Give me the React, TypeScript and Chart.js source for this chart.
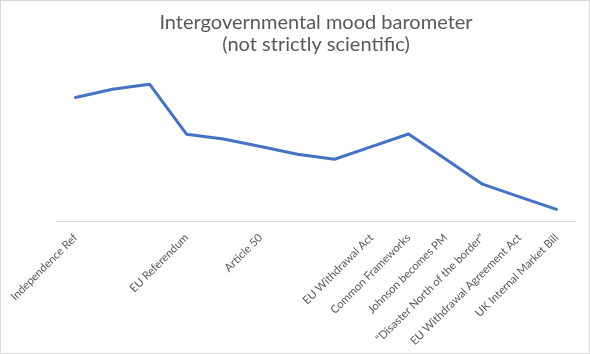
import React, { useEffect, useRef } from "react";
import { Chart, registerables } from "chart.js";

Chart.register(...registerables);

const titleLines = ["Intergovernmental mood barometer", "(not strictly scientific)"];

const categories = [
  "Independence Ref",
  "",
  "",
  "EU Referendum",
  "",
  "Article 50",
  "",
  "",
  "EU Withdrawal Act",
  "Common Frameworks",
  "Johnson becomes PM",
  "\"Disaster North of the border\"",
  "EU Withdrawal Agreement Act",
  "UK Internal Market Bill",
];

const mood = [8.18, 8.72, 9.06, 5.75, 5.43, 4.93, 4.42, 4.09, 4.93, 5.76, 4.11, 2.44, 1.6, 0.77];

const yMin = 0;
const yMax = 10;

const frame = {
  id: "frame",
  beforeDraw(chart: any) {
    const { ctx, width, height } = chart;
    ctx.save();
    ctx.fillStyle = "#ffffff";
    ctx.fillRect(0, 0, width, height);
    ctx.restore();
  },
  afterDraw(chart: any) {
    const { ctx, width, height } = chart;
    ctx.save();
    ctx.strokeStyle = "#d9d9d9";
    ctx.lineWidth = 1;
    ctx.strokeRect(0.5, 0.5, width - 1, height - 1);
    ctx.restore();
  },
};

export default function App() {
  const ref = useRef<HTMLCanvasElement | null>(null);

  useEffect(() => {
    document.body.style.margin = "0";
    const canvas = ref.current;
    if (!canvas) return;
    const chart = new Chart(canvas, {
      type: "line",
      data: {
        labels: categories,
        datasets: [
          {
            data: mood,
            borderColor: "#4472C4",
            backgroundColor: "#4472C4",
            borderWidth: 3,
            pointRadius: 0,
            tension: 0,
            borderCapStyle: "round",
            borderJoinStyle: "round",
          },
        ],
      },
      options: {
        responsive: false,
        animation: false,
        devicePixelRatio: 1,
        layout: { padding: { left: 57, right: 15, top: 0, bottom: 0 } },
        plugins: {
          legend: { display: false },
          tooltip: { enabled: false },
          title: {
            display: true,
            text: titleLines,
            color: "#595959",
            font: { family: "Lato", size: 20, weight: "normal", lineHeight: 1.1 },
            padding: { top: 11.5, bottom: 14.5 },
          },
        },
        scales: {
          x: {
            offset: true,
            grid: { display: false },
            border: { display: true, color: "#d9d9d9", width: 1 },
            ticks: {
              autoSkip: false,
              maxRotation: 45,
              minRotation: 45,
              padding: 2,
              color: "#595959",
              font: { family: "Lato", size: 11.2 },
            },
            afterFit(scale: any) {
              scale.height = 133;
            },
          },
          y: {
            display: false,
            min: yMin,
            max: yMax,
          },
        },
      },
      plugins: [frame],
    });
    return () => chart.destroy();
  }, []);

  return (
    <div style={{ position: "absolute", left: 0, top: 0, width: 590, height: 354 }}>
      <canvas ref={ref} width={590} height={354} style={{ width: 590, height: 354 }} />
    </div>
  );
}
